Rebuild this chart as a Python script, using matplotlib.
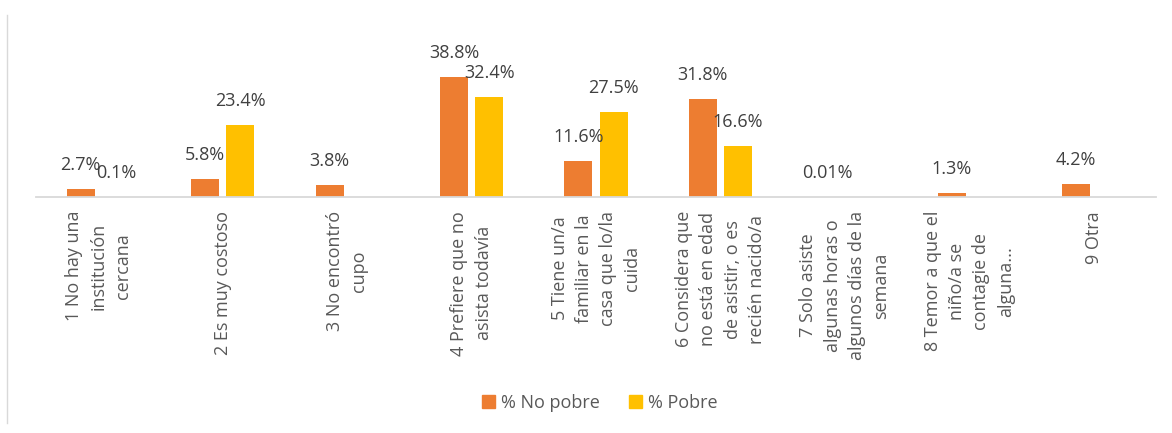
import matplotlib
matplotlib.use('Agg')

import matplotlib.pyplot as plt
import numpy as np
from matplotlib.lines import Line2D

plt.rcParams['font.family'] = ['Open Sans', 'DejaVu Sans']

categorias = [
    '1 No hay una\ninstitución\ncercana',
    '2 Es muy costoso',
    '3 No encontró\ncupo',
    '4 Prefiere que no\nasista todavía',
    '5 Tiene un/a\nfamiliar en la\ncasa que lo/la\ncuida',
    '6 Considera que\nno está en edad\nde asistir, o es\nrecién nacido/a',
    '7 Solo asiste\nalgunas horas o\nalgunos días de la\nsemana',
    '8 Temor a que el\nniño/a se\ncontagie de\nalguna...',
    '9 Otra',
]
no_pobre = [2.7, 5.8, 3.8, 38.8, 11.6, 31.8, 0.01, 1.3, 4.2]
pobre = [0.1, 23.4, None, 32.4, 27.5, 16.6, None, None, None]

naranja = '#ED7D31'
amarillo = '#FFC000'
gris_texto = '#595959'

fig = plt.figure(figsize=(11.72, 4.33), dpi=100)
ax = fig.add_axes([36 / 1172, 1 - 197 / 433, 1120 / 1172, 138.6 / 433])

x = np.arange(len(categorias))
ancho = 0.225
desp = 0.141

series = [
    ('% No pobre', no_pobre, naranja, -desp),
    ('% Pobre', pobre, amarillo, desp),
]

for nombre, valores, color, d in series:
    for i, v in enumerate(valores):
        if v is None:
            continue
        ax.bar(x[i] + d, v, width=ancho, color=color, zorder=2)
        ax.annotate(f'{v:g}%', (x[i] + d, v), xytext=(0, 17.3),
                    textcoords='offset points', ha='center', va='center',
                    fontsize=13, color='#404040', annotation_clip=False)

ax.set_xlim(-0.5, len(categorias) - 0.5)
ax.set_ylim(0, 45)
ax.set_yticks([])
ax.set_xticks(x)
ax.set_xticklabels(categorias, rotation=90, ha='center', va='top',
                   multialignment='center', fontsize=13, color=gris_texto,
                   linespacing=1.45)
ax.tick_params(axis='x', length=0, pad=10)

for lado in ['top', 'right', 'left']:
    ax.spines[lado].set_visible(False)
ax.spines['bottom'].set_color('#D9D9D9')
ax.spines['bottom'].set_linewidth(1.3)

# borde izquierdo del área del gráfico
fig.add_artist(Line2D([7 / 1172, 7 / 1172], [1 - 423 / 433, 1 - 15 / 433],
                      color='#D9D9D9', linewidth=1))

handles = [plt.Rectangle((0, 0), 1, 1, color=naranja),
           plt.Rectangle((0, 0), 1, 1, color=amarillo)]
fig.legend(handles, ['% No pobre', '% Pobre'], loc='center',
           bbox_to_anchor=(600 / 1172, 1 - 403 / 433), ncol=2, frameon=False,
           fontsize=13, labelcolor=gris_texto, handlelength=0.7,
           handleheight=0.7, handletextpad=0.35, columnspacing=1.6)

fig.savefig('out.png', dpi=100)
plt.close(fig)
